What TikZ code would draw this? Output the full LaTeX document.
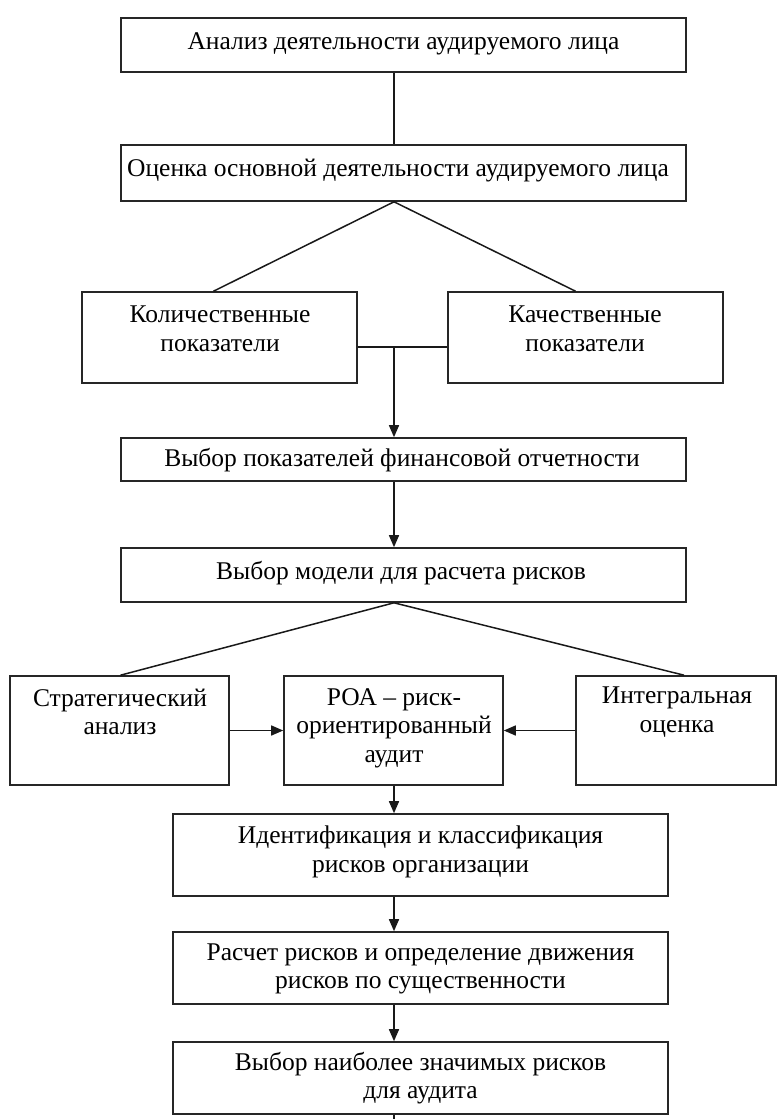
\documentclass[tikz,border=0pt]{standalone}
\usepackage{fontspec}
\setmainfont{Liberation Serif}
\usetikzlibrary{arrows.meta}
\tikzset{
  box/.style={draw=black!85, line width=1.6pt, inner sep=0pt, fill=none},
  txt/.style={align=center, inner sep=0pt, font=\fontsize{25.5}{28.6}\selectfont},
  conn/.style={line width=1.5pt, draw=black!90},
  arr/.style={conn, -{Triangle[length=12pt,width=10pt]}}
}
\begin{document}
\begin{tikzpicture}[x=1pt, y=-1pt]
\useasboundingbox (0,0) rectangle (777,1119);
\coordinate (spine) at (394,0);
% boxes
\node[box, minimum width=565pt, minimum height=54pt] (b1) at (403.5,45) {};
\node[box, minimum width=565pt, minimum height=56pt] (b2) at (403.5,173) {};
\node[box, minimum width=275pt, minimum height=91pt] (b3) at (219.5,337.5) {};
\node[box, minimum width=275pt, minimum height=91pt] (b4) at (585.5,337.5) {};
\node[box, minimum width=565pt, minimum height=43pt] (b5) at (403.5,459.5) {};
\node[box, minimum width=565pt, minimum height=54pt] (b6) at (403.5,575) {};
\node[box, minimum width=219pt, minimum height=109pt] (b7) at (119.5,730.5) {};
\node[box, minimum width=219pt, minimum height=109pt] (b8) at (393.5,730.5) {};
\node[box, minimum width=200pt, minimum height=109pt] (b9) at (676,730.5) {};
\node[box, minimum width=495pt, minimum height=82pt] (b10) at (420.5,855) {};
\node[box, minimum width=495pt, minimum height=72pt] (b11) at (420.5,968) {};
\node[box, minimum width=495pt, minimum height=72pt] (b12) at (420.5,1078) {};
% texts
\node[txt] (t1) at (403.5,44) {Анализ деятельности аудируемого лица};
\node[txt] (t2) at (398,171) {Оценка основной деятельности аудируемого лица};
\node[txt] (t3) at (220,329) {Количественные\\показатели};
\node[txt] (t4) at (585,329) {Качественные\\показатели};
\node[txt] (t5) at (402,460) {Выбор показателей финансовой отчетности};
\node[txt] (t6) at (401,573) {Выбор модели для расчета рисков};
\node[txt] (t7) at (120,712) {Стратегический\\анализ};
\node[txt] (t8) at (394,728) {РОА – риск-\\ориентированный\\аудит};
\node[txt] (t9) at (677,712) {Интегральная\\оценка};
\node[txt] (t10) at (420.5,852) {Идентификация и классификация\\рисков организации};
\node[txt] (t11) at (420.5,969) {Расчет рисков и определение движения\\рисков по существенности};
\node[txt] (t12) at (420.5,1078) {Выбор наиболее значимых рисков\\для аудита};
% connectors
\coordinate (j) at (394,347);
\coordinate (end) at (394,1119);
\draw[conn] (b1.south -| spine) -- (b2.north -| spine);
\draw[conn] (b2.south -| spine) -- ([xshift=-6pt]b3.north);
\draw[conn] (b2.south -| spine) -- ([xshift=-10pt]b4.north);
\draw[conn] (b3.east |- j) -- (b4.west |- j);
\draw[arr] (j) -- (b5.north -| spine);
\draw[arr] (b5.south -| spine) -- (b6.north -| spine);
\draw[conn] (b6.south -| spine) -- ([xshift=1pt]b7.north);
\draw[conn] (b6.south -| spine) -- ([xshift=8pt]b9.north);
\draw[arr] (b7.east) -- (b8.west);
\draw[arr] (b9.west) -- (b8.east);
\draw[arr] (b8.south -| spine) -- (b10.north -| spine);
\draw[arr] (b10.south -| spine) -- (b11.north -| spine);
\draw[arr] (b11.south -| spine) -- (b12.north -| spine);
\draw[conn] (b12.south -| spine) -- (end);
\end{tikzpicture}
\end{document}
